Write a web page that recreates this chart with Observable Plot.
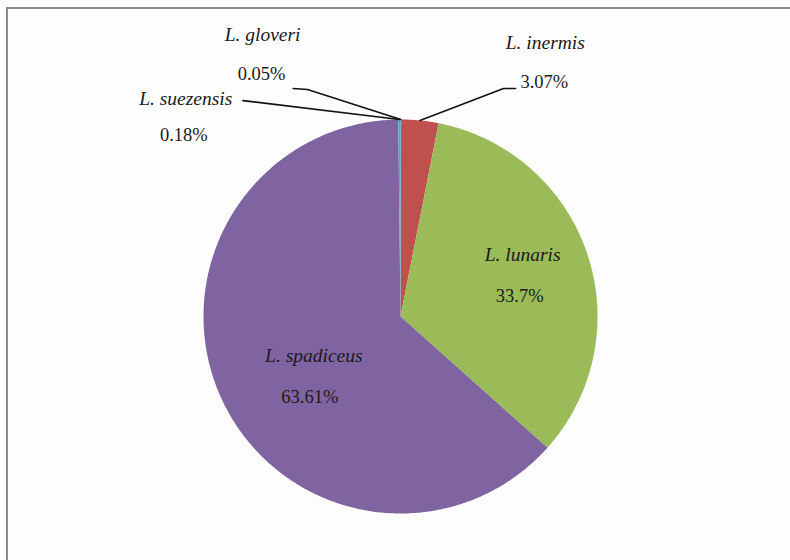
<!DOCTYPE html>
<html><head><meta charset="utf-8">
<script src="https://cdn.jsdelivr.net/npm/d3@7"></script>
<script src="https://cdn.jsdelivr.net/npm/@observablehq/plot@0.6"></script>
<style>
html,body{margin:0;padding:0;background:#fff;}
#chart{position:relative;width:790px;height:560px;background:#fdfdfd;overflow:hidden;}
#frame{position:absolute;left:6px;top:7px;right:-4px;bottom:-4px;border-top:2px solid #8c8c8c;border-left:2px solid #8c8c8c;pointer-events:none;}
#chart svg{position:absolute;left:0;top:0;}
</style></head><body><div id="chart"><div id="frame"></div></div>
<script>
// ---- data ----
const species = ["L. gloveri", "L. inermis", "L. lunaris", "L. spadiceus", "L. suezensis"];
const percents = [0.05, 3.07, 33.7, 63.61, 0.18];
const percentLabels = ["0.05%", "3.07%", "33.7%", "63.61%", "0.18%"];
const colors = ["#4F81BD", "#C0504D", "#9BBB59", "#8064A2", "#4BACC6"];

// ---- layout (units of pie radius, origin at pie centre) ----
const cx = 400, cy = 316, R = 197;
const namePos = [[-0.70, 1.43], [0.735, 1.39], [0.62, 0.315], [-0.44, -0.198], [-1.09, 1.107]];
const pctPos  = [[-0.705, 1.23], [0.73, 1.19], [0.605, 0.102], [-0.46, -0.41], [-1.10, 0.92]];
const leaderBends = [[[-0.472, 1.152], [-0.545, 1.157]], [[0.523, 1.157], [0.584, 1.157]], null, null, [[-0.80, 1.096]]];

const data = species.map((s, i) => ({name: s, value: percents[i], label: percentLabels[i], i}));
const arcs = d3.pie().sort(null).value(d => d.value).startAngle(0).endAngle(2 * Math.PI)(data);

// slice polygons (angles measured clockwise from 12 o'clock)
const slicePts = [];
for (const a of arcs) {
  slicePts.push({name: a.data.name, x: 0, y: 0});
  const n = Math.max(2, Math.ceil((a.endAngle - a.startAngle) / 0.01));
  for (let k = 0; k <= n; k++) {
    const t = a.startAngle + (a.endAngle - a.startAngle) * k / n;
    slicePts.push({name: a.data.name, x: Math.sin(t), y: Math.cos(t)});
  }
  slicePts.push({name: a.data.name, x: 0, y: 0});
}

// leader lines
const leaderPts = [];
arcs.forEach((a, i) => {
  const b = leaderBends[i];
  if (!b) return;
  const m = (a.startAngle + a.endAngle) / 2;
  leaderPts.push({name: a.data.name, x: Math.sin(m), y: Math.cos(m)});
  for (const p of b) leaderPts.push({name: a.data.name, x: p[0], y: p[1]});
});

const nameLabels = data.map((d, i) => ({text: d.name, x: namePos[i][0], y: namePos[i][1]}));
const pctLabels = data.map((d, i) => ({text: d.label, x: pctPos[i][0], y: pctPos[i][1]}));

const chart = Plot.plot({
  width: 790,
  height: 560,
  margin: 0,
  style: {background: "transparent"},
  x: {domain: [-1, 1], range: [cx - R, cx + R], axis: null},
  y: {domain: [-1, 1], range: [cy + R, cy - R], axis: null},
  color: {domain: species, range: colors},
  marks: [
    Plot.line(slicePts, {x: "x", y: "y", z: "name", fill: "name", stroke: "none", curve: "linear"}),
    Plot.line(leaderPts, {x: "x", y: "y", z: "name", stroke: "#111", strokeWidth: 1.6, curve: "linear"}),
    Plot.text(nameLabels, {x: "x", y: "y", text: "text", fill: "#1a1a1a", fontSize: 19.5, fontStyle: "italic",
      fontFamily: "Liberation Serif, DejaVu Serif, serif"}),
    Plot.text(pctLabels, {x: "x", y: "y", text: "text", fill: "#1a1a1a", fontSize: 18.5,
      fontFamily: "Liberation Serif, DejaVu Serif, serif"})
  ]
});
document.getElementById("chart").appendChild(chart);
</script>
</body></html>
